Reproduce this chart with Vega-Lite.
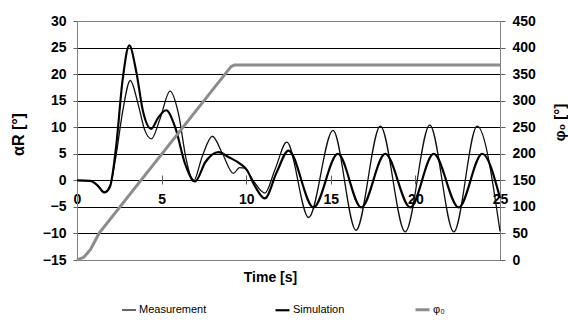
{
  "$schema": "https://vega.github.io/schema/vega-lite/v6.json",
  "width": 423,
  "height": 239,
  "autosize": "none",
  "padding": {"left": 77, "top": 21, "right": 68, "bottom": 65},
  "background": "white",
  "config": {
    "view": {"stroke": null},
    "font": "Liberation Sans",
    "axis": {
      "labelFont": "Liberation Sans",
      "labelFontWeight": "bold",
      "labelFontSize": 14,
      "labelColor": "black",
      "titleFont": "Liberation Sans",
      "titleFontWeight": "bold",
      "titleFontSize": 14,
      "titleColor": "black",
      "domainColor": "#808080",
      "tickColor": "#606060"
    }
  },
  "layer": [
    {
      "data": {
        "values": [
          {"t": 0, "v": 0, "series": "Measurement"},
          {"t": 0.8, "v": -0.1, "series": "Measurement"},
          {"t": 1.25, "v": -1.0, "series": "Measurement"},
          {"t": 1.6, "v": -2.2, "series": "Measurement"},
          {"t": 1.95, "v": -1.0, "series": "Measurement"},
          {"t": 2.3, "v": 4.5, "series": "Measurement"},
          {"t": 2.7, "v": 13, "series": "Measurement"},
          {"t": 3.15, "v": 18.8, "series": "Measurement"},
          {"t": 3.6, "v": 14.5, "series": "Measurement"},
          {"t": 4.0, "v": 9.5, "series": "Measurement"},
          {"t": 4.4, "v": 7.8, "series": "Measurement"},
          {"t": 4.9, "v": 11.5, "series": "Measurement"},
          {"t": 5.5, "v": 16.8, "series": "Measurement"},
          {"t": 6.0, "v": 12.5, "series": "Measurement"},
          {"t": 6.45, "v": 4, "series": "Measurement"},
          {"t": 6.88, "v": -0.2, "series": "Measurement"},
          {"t": 7.4, "v": 4.5, "series": "Measurement"},
          {"t": 8.0, "v": 8.3, "series": "Measurement"},
          {"t": 8.6, "v": 5, "series": "Measurement"},
          {"t": 9.25, "v": 1.3, "series": "Measurement"},
          {"t": 9.6, "v": 2.4, "series": "Measurement"},
          {"t": 9.9, "v": 2.3, "series": "Measurement"},
          {"t": 10.4, "v": 0, "series": "Measurement"},
          {"t": 11.1, "v": -2.4, "series": "Measurement"},
          {"t": 11.7, "v": 2, "series": "Measurement"},
          {"t": 12.4, "v": 7.2, "series": "Measurement"},
          {"t": 13.69, "v": -7.0, "series": "Measurement"},
          {"t": 15.13, "v": 9.4, "series": "Measurement"},
          {"t": 16.49, "v": -9.4, "series": "Measurement"},
          {"t": 17.93, "v": 10.2, "series": "Measurement"},
          {"t": 19.4, "v": -9.7, "series": "Measurement"},
          {"t": 20.85, "v": 10.4, "series": "Measurement"},
          {"t": 22.27, "v": -9.7, "series": "Measurement"},
          {"t": 23.65, "v": 10.2, "series": "Measurement"},
          {"t": 25, "v": -9.6, "series": "Measurement"},
          {"t": 0, "v": 0, "series": "Simulation"},
          {"t": 0.8, "v": -0.1, "series": "Simulation"},
          {"t": 1.25, "v": -1.1, "series": "Simulation"},
          {"t": 1.62, "v": -2.3, "series": "Simulation"},
          {"t": 1.95, "v": -1.2, "series": "Simulation"},
          {"t": 2.3, "v": 6, "series": "Simulation"},
          {"t": 2.7, "v": 19, "series": "Simulation"},
          {"t": 3.09, "v": 25.4, "series": "Simulation"},
          {"t": 3.5, "v": 20.5, "series": "Simulation"},
          {"t": 3.9, "v": 13, "series": "Simulation"},
          {"t": 4.38, "v": 9.7, "series": "Simulation"},
          {"t": 4.8, "v": 11.8, "series": "Simulation"},
          {"t": 5.27, "v": 13.2, "series": "Simulation"},
          {"t": 5.8, "v": 10, "series": "Simulation"},
          {"t": 6.4, "v": 3, "series": "Simulation"},
          {"t": 6.98, "v": -0.2, "series": "Simulation"},
          {"t": 7.6, "v": 3.5, "series": "Simulation"},
          {"t": 8.36, "v": 5.3, "series": "Simulation"},
          {"t": 9.0, "v": 4.3, "series": "Simulation"},
          {"t": 9.65, "v": 3.1, "series": "Simulation"},
          {"t": 10.05, "v": 1.9, "series": "Simulation"},
          {"t": 10.5, "v": -1, "series": "Simulation"},
          {"t": 11.1, "v": -3.4, "series": "Simulation"},
          {"t": 11.8, "v": 1.5, "series": "Simulation"},
          {"t": 12.5, "v": 5.6, "series": "Simulation"},
          {"t": 13.98, "v": -5.1, "series": "Simulation"},
          {"t": 15.42, "v": 5.0, "series": "Simulation"},
          {"t": 16.8, "v": -5.1, "series": "Simulation"},
          {"t": 18.22, "v": 5.0, "series": "Simulation"},
          {"t": 19.7, "v": -5.1, "series": "Simulation"},
          {"t": 21.08, "v": 5.0, "series": "Simulation"},
          {"t": 22.56, "v": -5.1, "series": "Simulation"},
          {"t": 23.95, "v": 5.0, "series": "Simulation"},
          {"t": 25, "v": -3.3, "series": "Simulation"}
        ]
      },
      "mark": {"type": "line", "interpolate": "monotone"},
      "encoding": {
        "x": {
          "field": "t", "type": "quantitative",
          "scale": {"domain": [0, 25], "nice": false},
          "axis": {
            "orient": "bottom", "offset": -76, "values": [0, 5, 10, 15, 20, 25],
            "title": null, "domain": false, "grid": false,
            "tickSize": -9, "labelPadding": 17, "labelFlush": false, "labelOverlap": false, "labelBound": false
          }
        },
        "y": {
          "field": "v", "type": "quantitative",
          "scale": {"domain": [-15, 30], "nice": false},
          "axis": {
            "orient": "left", "values": [-15, -10, -5, 0, 5, 10, 15, 20, 25, 30],
            "title": "αR [°]", "titleFontSize": 16, "titleX": -51, "titleY": 113, "titleAngle": -90, "titleBaseline": "bottom",
            "tickSize": 4, "labelPadding": 7,
            "grid": true,
            "gridColor": {"condition": {"test": "datum.value == 30 || datum.value == -15", "value": "#808080"}, "value": "black"},
            "gridOpacity": 1
          }
        },
        "color": {
          "field": "series", "type": "nominal",
          "scale": {"domain": ["Measurement", "Simulation", "φ₀"], "range": ["#111111", "#000000", "#8c8c8c"]},
          "legend": {
            "orient": "none", "legendX": 44, "legendY": 280, "direction": "horizontal",
            "title": null, "symbolType": "stroke", "symbolSize": 196,
            "labelFontSize": 11, "labelFont": "Liberation Sans", "labelColor": "black",
            "columnPadding": 64, "labelOffset": 2, "padding": 0
          }
        },
        "strokeWidth": {
          "field": "series", "type": "nominal",
          "scale": {"domain": ["Measurement", "Simulation", "φ₀"], "range": [1.3, 3, 3]},
          "legend": null
        }
      }
    },
    {
      "data": {
        "values": [
          {"t": 0, "p": 0, "series": "φ₀"},
          {"t": 0.4, "p": 5, "series": "φ₀"},
          {"t": 0.8, "p": 20, "series": "φ₀"},
          {"t": 1.3, "p": 50, "series": "φ₀"},
          {"t": 9.1, "p": 364, "series": "φ₀"},
          {"t": 9.3, "p": 367, "series": "φ₀"},
          {"t": 25, "p": 367, "series": "φ₀"}
        ]
      },
      "mark": {"type": "line", "interpolate": "linear"},
      "encoding": {
        "x": {
          "field": "t", "type": "quantitative",
          "scale": {"domain": [0, 25], "nice": false},
          "axis": {
            "orient": "bottom", "title": "Time [s]", "labels": false, "ticks": false,
            "grid": false, "domain": true, "titleX": 193, "titleY": 10, "titleBaseline": "top"
          }
        },
        "y": {
          "field": "p", "type": "quantitative",
          "scale": {"domain": [0, 450], "nice": false},
          "axis": {
            "orient": "right", "values": [0, 50, 100, 150, 200, 250, 300, 350, 400, 450],
            "title": "φ₀ [°]", "titleFontSize": 15, "titleAngle": -90, "titleBaseline": "top", "titleX": 52, "titleY": 101,
            "tickSize": 5, "labelPadding": 7, "grid": false
          }
        },
        "color": {"field": "series", "type": "nominal"},
        "strokeWidth": {"field": "series", "type": "nominal", "legend": null}
      }
    }
  ],
  "resolve": {"scale": {"y": "independent"}, "axis": {"x": "independent", "y": "independent"}}
}
